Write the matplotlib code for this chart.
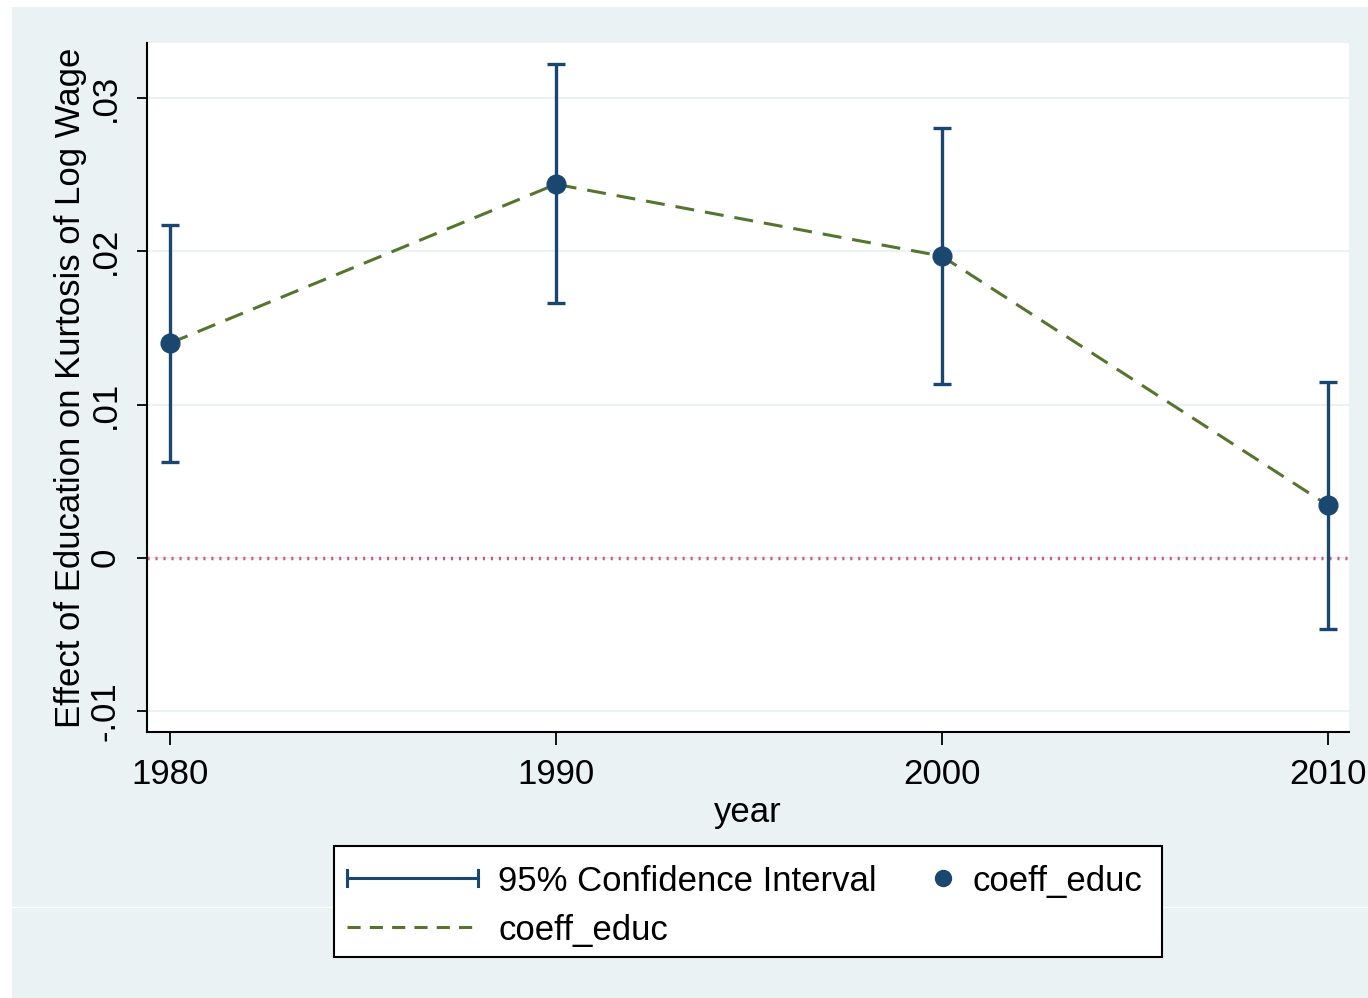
import matplotlib
matplotlib.use('Agg')
import matplotlib.pyplot as plt
from matplotlib.lines import Line2D
from matplotlib.patches import Rectangle

# values
years = [1980, 1990, 2000, 2010]
coeff = [0.01401, 0.02438, 0.01969, 0.00344]
ci_lo = [0.00625, 0.01661, 0.01134, -0.00465]
ci_hi = [0.0217, 0.03222, 0.02805, 0.01147]
yticks = [-0.01, 0, 0.01, 0.02, 0.03]
ytick_labels = ['-.01', '0', '.01', '.02', '.03']

NAVY = '#1A476F'
GREEN = '#55752F'
BG = '#EAF2F3'
W, H = 1368, 998

plt.rcParams['font.family'] = ['Liberation Sans', 'DejaVu Sans']
fs = 25

fig = plt.figure(figsize=(W / 100, H / 100), dpi=100, facecolor='white')


def fx(x):
    return x / W


def fy(y):
    return 1 - y / H


# graph region background
fig.add_artist(Rectangle((fx(12), 0), 1 - fx(12), fy(7), transform=fig.transFigure,
                         facecolor=BG, edgecolor='none', zorder=-10))
fig.add_artist(Line2D([fx(12), 1], [fy(907), fy(907)], transform=fig.transFigure,
                      color='white', lw=1, zorder=-9))

ax = fig.add_axes([fx(147), fy(732), fx(1349) - fx(147), fy(43) - fy(732)])
ax.set_facecolor('white')

# error bars
err = [[c - l for c, l in zip(coeff, ci_lo)], [h - c for c, h in zip(coeff, ci_hi)]]
ax.errorbar(years, coeff, yerr=err, fmt='none', ecolor=NAVY, elinewidth=2.4,
            capsize=6.5, capthick=2.4, zorder=3)
ax.plot(years, coeff, color=GREEN, lw=2.2, linestyle=(0, (6.2, 3.6)), zorder=4)
ax.plot(years, coeff, 'o', color=NAVY, ms=13.5, zorder=5)
ax.axhline(0, color='#D05878', lw=2.5, linestyle=(0, (0.6, 1.7)), zorder=2)

ax.set_xlim(1979.404, 2010.552)
ax.set_ylim(-0.01137, 0.0336)
ax.set_xticks(years)
ax.set_yticks(yticks)
ax.set_yticklabels(ytick_labels, rotation=90, va='center')
ax.grid(axis='y', color=BG, lw=1.5, zorder=0)
ax.set_axisbelow(True)

for s in ['top', 'right']:
    ax.spines[s].set_visible(False)
for s in ['left', 'bottom']:
    ax.spines[s].set_linewidth(1.5)
ax.tick_params(axis='y', length=7.2, width=1.3, pad=11, labelsize=fs)
ax.tick_params(axis='x', length=9.4, width=1.3, pad=9, labelsize=fs)

ax.set_xlabel('year', fontsize=fs, labelpad=4)
ax.set_ylabel('Effect of Education on Kurtosis of Log Wage', fontsize=fs, labelpad=1)

# legend, drawn in figure pixels
fig.add_artist(Rectangle((fx(334), fy(957)), fx(1162) - fx(334), fy(846) - fy(957),
                         transform=fig.transFigure, facecolor='white',
                         edgecolor='black', lw=1.5, zorder=5))
fig.add_artist(Line2D([fx(347), fx(478)], [fy(878), fy(878)], transform=fig.transFigure,
                      color=NAVY, lw=2.2, zorder=6))
for xc in (347, 478):
    fig.add_artist(Line2D([fx(xc), fx(xc)], [fy(870), fy(886)], transform=fig.transFigure,
                          color=NAVY, lw=2.2, zorder=6))
fig.add_artist(Line2D([fx(943)], [fy(878)], transform=fig.transFigure, marker='o',
                      color=NAVY, ms=11.5, linestyle='none', zorder=6))
fig.add_artist(Line2D([fx(347), fx(478)], [fy(927), fy(927)], transform=fig.transFigure,
                      color=GREEN, lw=2.2, linestyle=(0, (4.3, 3.0)), zorder=6))
fig.text(fx(498), fy(891), '95% Confidence Interval', fontsize=fs, va='baseline', zorder=6)
fig.text(fx(972), fy(891), 'coeff_educ', fontsize=fs, va='baseline', zorder=6)
fig.text(fx(498), fy(940), 'coeff_educ', fontsize=fs, va='baseline', zorder=6)

fig.savefig('out.png', dpi=100, facecolor='white')
